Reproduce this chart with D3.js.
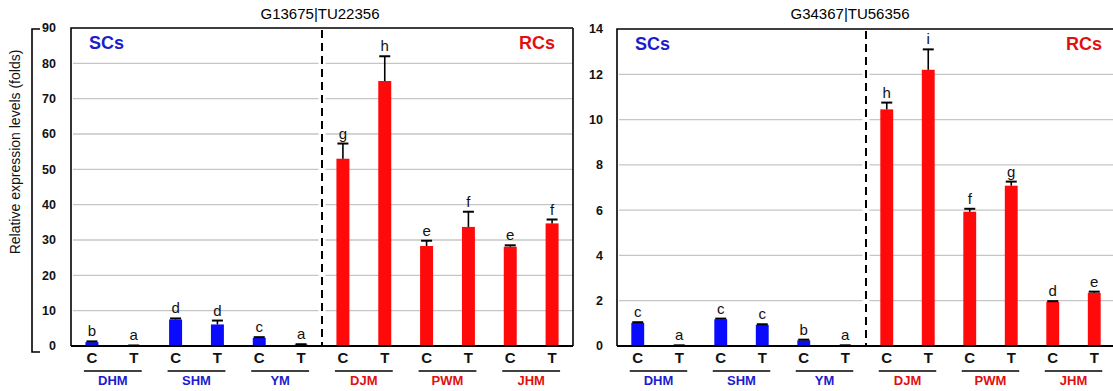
<!DOCTYPE html>
<html><head><meta charset="utf-8">
<script src="https://cdn.jsdelivr.net/npm/d3@7"></script>
<style>body{margin:0;background:#fff}svg{display:block}</style>
</head><body>
<svg id="c" width="1113" height="391"></svg>
<script>
const bars = ["C","T","C","T","C","T","C","T","C","T","C","T"];
const groups = ["DHM","SHM","YM","DJM","PWM","JHM"];
const groupType = ["SC","SC","SC","RC","RC","RC"];

const titleA = "G13675|TU22356";
const valuesA = [1.1, 0.1, 7.5, 6.1, 2.3, 0.4, 53, 75, 28.3, 33.7, 28.1, 34.7];
const errorsA = [0.2, 0.05, 0.3, 1.1, 0.2, 0.1, 4.3, 7, 1.5, 4.3, 0.4, 1.1];
const lettersA = ["b","a","d","d","c","a","g","h","e","f","e","f"];
const ticksA = [0,10,20,30,40,50,60,70,80,90];

const titleB = "G34367|TU56356";
const valuesB = [1.02, 0.02, 1.18, 0.93, 0.25, 0.02, 10.45, 12.2, 5.93, 7.08, 1.95, 2.35];
const errorsB = [0.03, 0.01, 0.03, 0.03, 0.03, 0.01, 0.3, 0.9, 0.13, 0.18, 0.03, 0.05];
const lettersB = ["c","a","c","c","b","a","h","i","f","g","d","e"];
const ticksB = [0,2,4,6,8,10,12,14];

const BLUE = "#0a0aff", RED = "#ff0a0a", TXTBLUE = "#1c1ccc", TXTRED = "#e01010";
const svg = d3.select("#c");
const F = "Arial, 'Liberation Sans', sans-serif";

function panel(o){
  const {x0,x1,y0,y1,values,errors,letters,ticks,title,titleX,tickX} = o;
  const g = svg.append("g");
  const x = d3.scaleBand().domain(d3.range(bars.length)).range([x0,x1]).paddingInner(0.69).paddingOuter(0.345);
  const y = d3.scaleLinear().domain([0, d3.max(ticks)]).range([y1,y0]);
  g.selectAll(".grid").data(ticks.slice(1,-1)).join("line")
    .attr("x1",x0+2).attr("x2",x1).attr("y1",d=>y(d)).attr("y2",d=>y(d))
    .attr("stroke","#c6c6c6").attr("stroke-width",1.3);
  const sepX = (x(5)+x.bandwidth()+x(6))/2;
  g.append("line").attr("x1",sepX).attr("x2",sepX).attr("y1",y0).attr("y2",y1)
    .attr("stroke","#fff").attr("stroke-width",7);
  g.append("line").attr("x1",sepX).attr("x2",sepX).attr("y1",y0+2).attr("y2",y1)
    .attr("stroke","#000").attr("stroke-width",2).attr("stroke-dasharray","8,5");
  g.append("path").attr("d",`M${x0},${y1}V${y0}H${x1}`).attr("fill","none").attr("stroke","#000").attr("stroke-width",1.6);
  g.append("line").attr("x1",x1).attr("x2",x1).attr("y1",y0).attr("y2",y1).attr("stroke","#000").attr("stroke-width",1.6);
  g.selectAll(".bar").data(values).join("rect")
    .attr("x",(d,i)=>x(i)).attr("width",x.bandwidth())
    .attr("y",d=>y(d)).attr("height",d=>y1-y(d))
    .attr("fill",(d,i)=>groupType[Math.floor(i/2)]==="SC"?BLUE:RED);
  values.forEach((v,i)=>{
    const cx = x(i)+x.bandwidth()/2;
    const top = y(v+errors[i]);
    g.append("line").attr("x1",cx).attr("x2",cx).attr("y1",y(v)).attr("y2",top).attr("stroke","#000").attr("stroke-width",1.6);
    g.append("line").attr("x1",cx-5.5).attr("x2",cx+5.5).attr("y1",top).attr("y2",top).attr("stroke","#000").attr("stroke-width",2);
    g.append("text").attr("x",cx).attr("y",top-5).attr("text-anchor","middle")
      .attr("font-family",F).attr("font-size",15).attr("fill","#111").text(letters[i]);
  });
  g.append("line").attr("x1",x0).attr("x2",x1).attr("y1",y1).attr("y2",y1).attr("stroke","#000").attr("stroke-width",2.2);
  g.selectAll(".yt").data(ticks).join("text")
    .attr("x",tickX).attr("y",d=>y(d)).attr("dy","0.35em").attr("text-anchor","end")
    .attr("font-family",F).attr("font-size",12.5).attr("font-weight","bold").attr("fill","#111").text(d=>d);
  g.selectAll(".xt").data(bars).join("text")
    .attr("x",(d,i)=>x(i)+x.bandwidth()/2).attr("y",y1+17).attr("text-anchor","middle")
    .attr("font-family",F).attr("font-size",15).attr("font-weight","bold").attr("fill","#111").text(d=>d);
  groups.forEach((gr,k)=>{
    const a = x(2*k)+x.bandwidth()/2-8, b = x(2*k+1)+x.bandwidth()/2+8;
    g.append("line").attr("x1",a).attr("x2",b).attr("y1",y1+25).attr("y2",y1+25).attr("stroke","#000").attr("stroke-width",1.5);
    g.append("text").attr("x",(a+b)/2).attr("y",y1+39).attr("text-anchor","middle")
      .attr("font-family",F).attr("font-size",13).attr("font-weight","bold")
      .attr("fill",groupType[k]==="SC"?TXTBLUE:TXTRED).text(gr);
  });
  g.append("text").attr("x",x0+18).attr("y",y0+21).attr("font-family",F).attr("font-size",18).attr("font-weight","bold")
    .attr("fill",TXTBLUE).text("SCs");
  g.append("text").attr("x",o.rcX).attr("y",y0+21).attr("text-anchor","end").attr("font-family",F).attr("font-size",18).attr("font-weight","bold")
    .attr("fill",TXTRED).text("RCs");
  svg.append("text").attr("x",titleX).attr("y",19).attr("text-anchor","middle")
    .attr("font-family",F).attr("font-size",15).attr("fill","#000").text(title);
  return y;
}

panel({x0:71,x1:573,y0:28,y1:346,values:valuesA,errors:errorsA,letters:lettersA,ticks:ticksA,title:titleA,titleX:320,tickX:56,rcX:555});
panel({x0:617,x1:1115,y0:29,y1:346,values:valuesB,errors:errorsB,letters:lettersB,ticks:ticksB,title:titleB,titleX:850,tickX:603,rcX:1102});

svg.append("path").attr("d","M40,29H32V352H40").attr("fill","none").attr("stroke","#000").attr("stroke-width",1.6);
svg.append("text").attr("transform","translate(20,152) rotate(-90)").attr("text-anchor","middle")
  .attr("font-family",F).attr("font-size",14).attr("fill","#111").text("Relative expression levels (folds)");
</script>
</body></html>
